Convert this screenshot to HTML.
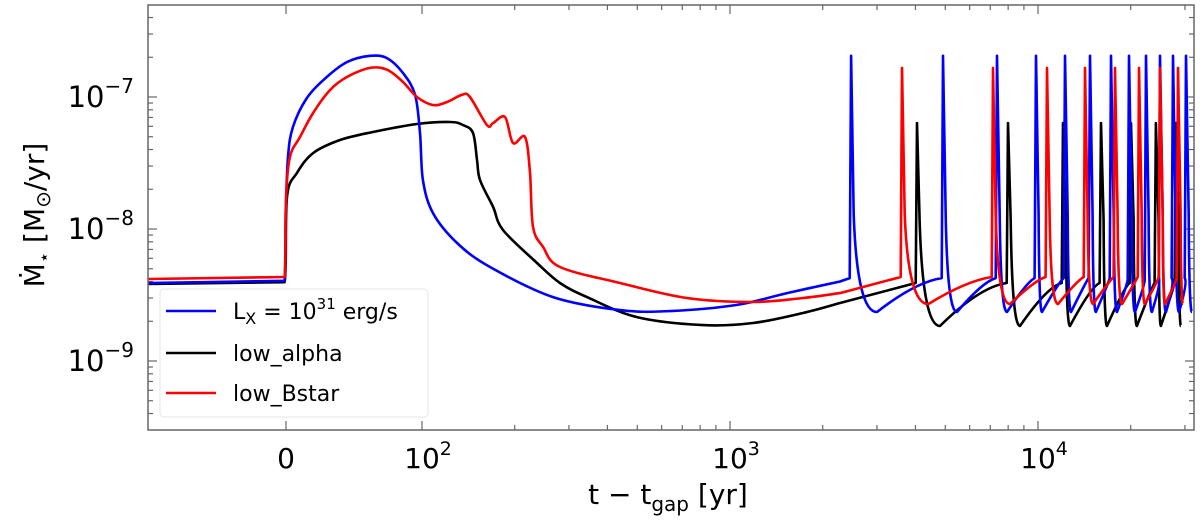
<!DOCTYPE html>
<html><head><meta charset="utf-8">
<style>
html,body{margin:0;padding:0;background:#fff;}
svg{display:block;font-family:"DejaVu Sans","Liberation Sans",sans-serif;}
</style></head>
<body>
<svg id="chart" width="1200" height="522" viewBox="0 0 1200 522" xmlns="http://www.w3.org/2000/svg">
  <defs><clipPath id="plotclip"><rect x="148" y="5" width="1046" height="425"/></clipPath></defs>
  <rect x="148" y="5" width="1046" height="425" fill="#fff"/>
  <g id="ticks"></g>
  <g id="series" clip-path="url(#plotclip)"></g>
  <rect x="148" y="5" width="1046" height="425" fill="none" stroke="#666" stroke-width="1.5"/>
  <g id="xlabels" font-size="28" fill="#000" text-anchor="middle"></g>
  <g id="ylabels" font-size="29" fill="#000" text-anchor="end"></g>
  <text x="668" y="504" font-size="28" text-anchor="middle">t − t<tspan font-size="20" dy="7">gap</tspan><tspan dy="-7"> [yr]</tspan></text>
  <text transform="translate(44,215) rotate(-90)" font-size="28" text-anchor="middle">Ṁ<tspan font-size="18" dy="6">⋆</tspan><tspan dy="-6"> [M</tspan><tspan font-size="20" dy="6">⊙</tspan><tspan dy="-6">/yr]</tspan></text>
  <g>
    <rect x="160" y="289" width="268" height="128" rx="4" fill="#fff" fill-opacity="0.85" stroke="#e6e6e6" stroke-width="1"/>
    <line x1="166" y1="311" x2="216" y2="311" stroke="#0000ff" stroke-width="2.5"/>
    <text x="233" y="319" font-size="22">L<tspan font-size="16" dy="5">X</tspan><tspan dy="-5"> = 10</tspan><tspan font-size="15" dy="-10">31</tspan><tspan dy="10"> erg/s</tspan></text>
    <line x1="166" y1="353" x2="216" y2="353" stroke="#000" stroke-width="2.5"/>
    <text x="233" y="361" font-size="22">low_alpha</text>
    <line x1="166" y1="393" x2="216" y2="393" stroke="#ff0000" stroke-width="2.5"/>
    <text x="233" y="401" font-size="22">low_Bstar</text>
  </g>
</svg>
<script>
// ---- data (t in yr, Mdot in units of 1e-9 Msun/yr) ----
const blueT = [-101,-1,-0.2,1.5,5.1,15.4,30.1,44.9,61.8,74.3,86,94.9,98.5,100.7,108.6,130,166.3,266.3,439.5,638.8,1054,1531,2276];
const blueM = [3.90,4.05,13.2,35.1,59.2,98.3,142,184,205,197,152,104,53.4,23.5,13.2,7.83,5.15,3.05,2.43,2.39,2.66,3.27,4.0];
const blackT = [-101,-1,0.7,8.1,19.9,39.7,64,96.3,123.3,135.9,146.4,150.9,154.3,170.1,183.2,236.3,280.6,343.4,499,817,1188,1726,2276];
const blackM = [3.83,3.95,17.5,26.6,37.6,47.2,54.3,62.4,64.7,61.3,53.4,33.3,23.5,14.7,9.83,5.53,3.90,3.05,2.15,1.87,1.94,2.31,2.75];
const redT = [-101,-1,0,2.9,10.3,19.9,32.4,44.9,61.8,74.3,86,96.3,108.6,120.6,134.9,143.1,162.6,170.1,186,197.5,216,224.2,229.3,247.2,280.6,439.5,725.3,1188,1726,2276];
const redM = [4.18,4.33,16.6,35.1,49.8,75.7,113,142,166,161,130,100,86.9,91.6,104,100,61.3,63.5,70.5,44.8,49.8,26.6,10.4,7.3,5.15,3.9,3.0,2.8,3.0,3.27];
// episodic outbursts: spike times, trough times, levels
const blueSpikeT = [2472,4917,7362,9851,12239,14750,17260,19750,22420,24900,27430,30240];
const blueMinT   = [3001,5458,7934,10304,12800,15420,18050,20650,23440,26040,28690,31620];
const bluePeak = 205, bluePre = 4.25, blueMin = 2.35;
const blackSpikeT = [4047,7993,12057,16010,20040,24150,28050];
const blackMinT   = [4808,8743,12705,16750,20950,25060,29110];
const blackPeak = 63.5, blackPre = 3.90, blackMin = 1.84;
const redSpikeT = [3618,7144,10695,14210,17780,21280,24900,28480];
const redMinT   = [4400,8113,11614,15090,18740,22230,25840,29570];
const redPeak = 166, redPre = 4.33, redMin = 2.7;
// tick labels
const xTickVals = [0,100,1000,10000];
const xTickBase = ["0","10","10","10"];
const xTickExp = ["","2","3","4"];
const yTickExps = [-7,-8,-9];

// ---- axes ----
const X0=286, LIN=1.36, X100=422, DEC_X=308;
function xs(t){ return t<=100 ? X0 + t*LIN : X100 + DEC_X*Math.log10(t/100); }
const Y_1E9=361, DEC_Y=132;
function ys(m){ return Y_1E9 - DEC_Y*Math.log10(m); } // m in 1e-9 units
const NS="http://www.w3.org/2000/svg";
const f=v=>v.toFixed(1);

function smoothPath(pts){
  let d='M'+f(pts[0][0])+','+f(pts[0][1]);
  for(let i=0;i<pts.length-1;i++){
    const p0=pts[Math.max(0,i-1)],p1=pts[i],p2=pts[i+1],p3=pts[Math.min(pts.length-1,i+2)];
    if(i===0){ d+=' L'+f(p2[0])+','+f(p2[1]); continue; }
    const k=1/6;
    const c1=[p1[0]+(p2[0]-p0[0])*k,p1[1]+(p2[1]-p0[1])*k];
    const c2=[p2[0]-(p3[0]-p1[0])*k,p2[1]-(p3[1]-p1[1])*k];
    c1[0]=Math.min(Math.max(c1[0],p1[0]),p2[0]); c2[0]=Math.min(Math.max(c2[0],p1[0]),p2[0]);
    d+=' C'+f(c1[0])+','+f(c1[1])+' '+f(c2[0])+','+f(c2[1])+' '+f(p2[0])+','+f(p2[1]);
  }
  return d;
}
function buildPath(T,M,spT,minT,peak,pre,mn){
  const pts=[];
  for(let i=0;i<T.length;i++) pts.push([xs(T[i]),ys(M[i])]);
  let d=smoothPath(pts);
  for(let i=0;i<spT.length;i++){
    const s=spT[i], e=minT[i];
    const xp=xs(s*0.99), xpk=xs(s), xd=xs(s*1.02), xe=xs(e);
    const last=pts[pts.length-1];
    d+=' Q'+f((last[0]+xp)/2+(i?6:0))+','+f(i?ys(pre)+4:(last[1]+ys(pre))/2)+' '+f(xp)+','+f(ys(pre));
    d+=' L'+f(xpk)+','+f(ys(peak));
    d+=' L'+f(xd)+','+f(ys(pre*3));
    d+=' Q'+f(xd+(xe-xd)*0.15)+','+f(ys(mn))+' '+f(xe)+','+f(ys(mn));
    pts.push([xe,ys(mn)]);
  }
  return d;
}
const seriesG=document.getElementById('series');
function drawSeries(name,color,d){
  const p=document.createElementNS(NS,'path');
  p.setAttribute('d',d);
  p.setAttribute('fill','none');p.setAttribute('stroke',color);
  p.setAttribute('stroke-width','2.6');p.setAttribute('stroke-linejoin','round');
  
  
  seriesG.appendChild(p);
}
drawSeries('series-low-alpha','#000',buildPath(blackT,blackM,blackSpikeT,blackMinT,blackPeak,blackPre,blackMin));
drawSeries('series-lx-1e31','#0000ff',buildPath(blueT,blueM,blueSpikeT,blueMinT,bluePeak,bluePre,blueMin));
drawSeries('series-low-bstar','#ff0000',buildPath(redT,redM,redSpikeT,redMinT,redPeak,redPre,redMin));

// ---- ticks ----
const tg=document.getElementById('ticks');
function tick(x1,y1,x2,y2){
  const l=document.createElementNS(NS,'line');
  l.setAttribute('x1',x1);l.setAttribute('y1',y1);l.setAttribute('x2',x2);l.setAttribute('y2',y2);
  l.setAttribute('stroke','#666');l.setAttribute('stroke-width','1.2');
  
  
  tg.appendChild(l);
}
xTickVals.forEach(v=>{const x=xs(v);tick(x,430,x,421);tick(x,5,x,14);});
for(let d=100; d<=10000; d*=10){
  for(let k=2;k<=9;k++){const v=d*k;const x=xs(v); if(x<1194){tick(x,430,x,425);tick(x,5,x,10);}}
}
for(let e=-10;e<=-6;e++){
  const m=Math.pow(10,e+9);const y=ys(m);
  if(y>=5&&y<=430){tick(148,y,157,y);tick(1194,y,1185,y);}
  for(let k=2;k<=9;k++){const yy=ys(m*k); if(yy>5&&yy<430){tick(148,yy,153,yy);tick(1194,yy,1189,yy);}}
}
const xl=document.getElementById('xlabels');
xTickVals.forEach((v,i)=>{
  const t=document.createElementNS(NS,'text');
  t.setAttribute('x',xs(v)+(xTickExp[i]?6:0));t.setAttribute('y',468);
  
  
  t.textContent=xTickBase[i];
  if(xTickExp[i]){const s=document.createElementNS(NS,'tspan');s.setAttribute('font-size','19');s.setAttribute('dy','-13');s.textContent=xTickExp[i];t.appendChild(s);}
  xl.appendChild(t);
});
const yl=document.getElementById('ylabels');
yTickExps.forEach(e=>{
  const y=ys(Math.pow(10,e+9));
  const t=document.createElementNS(NS,'text');
  t.setAttribute('x',134);t.setAttribute('y',y+10);
  
  
  t.textContent='10';
  const s=document.createElementNS(NS,'tspan');s.setAttribute('font-size','20');s.setAttribute('dy','-14');s.textContent='−'+Math.abs(e);
  t.appendChild(s);
  yl.appendChild(t);
});
</script>
</body></html>
